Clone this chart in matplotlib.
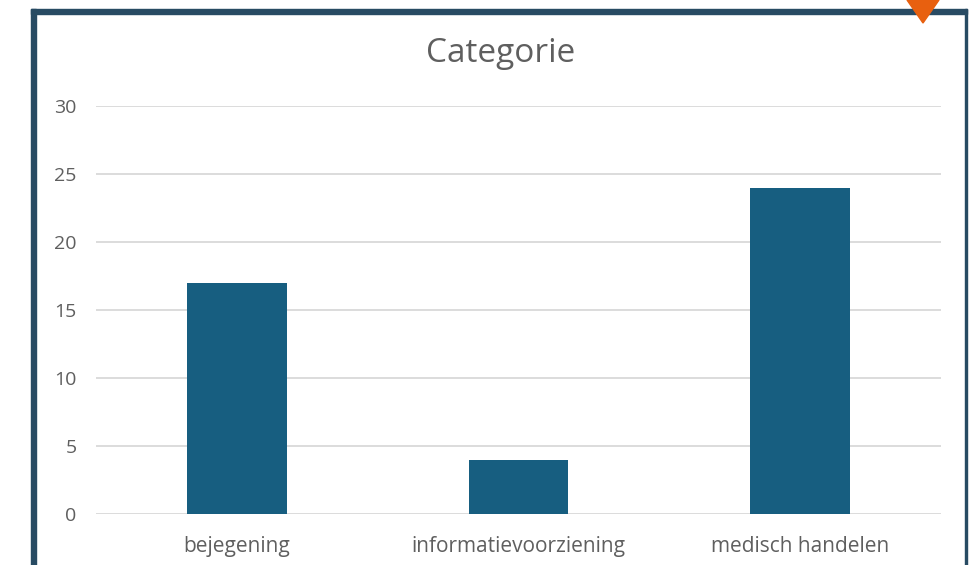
import matplotlib.pyplot as plt
from matplotlib.patches import Rectangle, Polygon

# data
categories = ["bejegening", "informatievoorziening", "medisch handelen"]
counts = [17, 4, 24]
yticks = [0, 5, 10, 15, 20, 25, 30]

plt.rcParams['font.family'] = ['Open Sans', 'DejaVu Sans']

fig = plt.figure(figsize=(9.69, 5.65), dpi=100)
W, H = 969, 565

# frame around the chart (screenshot border)
navy = "#284b63"
fig.patches.append(Rectangle((31 / W, 0), 5 / W, 1 - 9 / H, transform=fig.transFigure,
                             color=navy, zorder=0))
fig.patches.append(Rectangle((31 / W, 1 - 14 / H), (967 - 31) / W, 5 / H,
                             transform=fig.transFigure, color=navy, zorder=0))
fig.patches.append(Rectangle((965 / W, 0), 2 / W, 1 - 9 / H, transform=fig.transFigure,
                             color=navy, zorder=0))
# orange marker at top right
fig.patches.append(Polygon([(907 / W, 1), (939 / W, 1), (923 / W, 1 - 23 / H)],
                           closed=True, transform=fig.transFigure,
                           color="#e8600f", zorder=1))

ax = fig.add_axes([96 / W, 1 - 514 / H, (941 - 96) / W, (514 - 106) / H])
x = range(len(categories))
ax.bar(x, counts, width=0.355, color="#175e80", zorder=3)

ax.set_xlim(-0.5, len(categories) - 0.5)
ax.set_ylim(0, 30)
ax.set_yticks(yticks)
ax.set_xticks(list(x))
ax.set_xticklabels(categories)
ax.yaxis.grid(True, color="#d9d9d9", linewidth=1.3, zorder=0)
ax.set_axisbelow(True)
for s in ax.spines.values():
    s.set_visible(False)
ax.tick_params(axis="both", length=0, colors="#5f5f5f")
ax.tick_params(axis="y", pad=14, labelsize=14)
ax.tick_params(axis="x", pad=16, labelsize=15)

fig.text(501 / W, 1 - 53 / H, "Categorie", ha="center", va="center",
         fontsize=24, color="#5f5f5f")

fig.savefig("out.png", dpi=100)
